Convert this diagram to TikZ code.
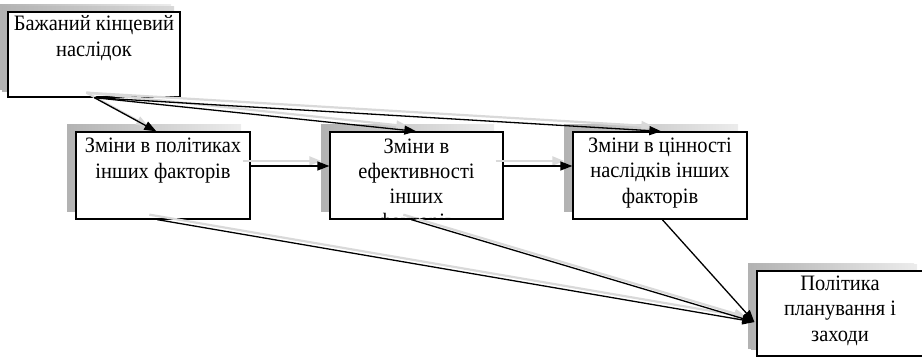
\documentclass[tikz,border=0pt]{standalone}
\usepackage{fontspec}
\setmainfont[FakeStretch=0.93]{Liberation Serif}
\usetikzlibrary{arrows.meta,shadows,calc}
\begin{document}
\begin{tikzpicture}[x=1pt,y=-1pt,
  box/.style={draw=black,line width=1.3pt,fill=white,inner sep=0pt,
    drop shadow={shadow xshift=-9pt,shadow yshift=7pt,left color=gray!60,right color=gray!15,opacity=1}},
  txt/.style={anchor=base,inner sep=0pt,align=center,font=\fontsize{22}{26}\selectfont},
  arr/.style={draw=black,line width=1.3pt,-{Triangle[length=12pt,width=9pt]}},
  ash/.style={draw=gray!30,line width=2.2pt,-{Triangle[length=12pt,width=9pt]},
    transform canvas={xshift=-8pt,yshift=5pt}}]
\useasboundingbox (0,0) rectangle (922,358);
% boxes
\node[box,minimum width=172pt,minimum height=85pt,
  drop shadow={shadow xshift=-6pt,shadow yshift=5pt,left color=gray!60,right color=gray!30,opacity=1}] (b1) at (94,54.5) {};
\node[box,minimum width=174pt,minimum height=87pt] (b2) at (163,175.5) {};
\node[box,minimum width=173pt,minimum height=87pt] (b3) at (416.5,175.5) {};
\node[box,minimum width=174pt,minimum height=87pt] (b4) at (660,175.5) {};
\node[box,minimum width=166pt,minimum height=85pt,
  drop shadow={shadow xshift=-6pt,shadow yshift=6pt,left color=gray!60,right color=gray!15,opacity=1}] (b5) at (840,313.5) {};
% connection points
\coordinate (s1) at ([xshift=87pt]b1.south west);
\coordinate (t2) at ([xshift=81pt]b2.north west);
\coordinate (t3) at ([xshift=87pt]b3.north west);
\coordinate (t4) at ([xshift=89pt]b4.north west);
\coordinate (u2) at ([xshift=82pt]b2.south west);
\coordinate (u3) at ([xshift=82pt]b3.south west);
\coordinate (u4) at ([xshift=90pt]b4.south west);
\coordinate (tip) at ([xshift=-2pt,yshift=-8.5pt]b5.west);
% arrow shadows
\draw[ash] (s1) -- (t2);
\draw[ash] (s1) -- (t3);
\draw[ash] (s1) -- (t4);
\draw[ash] ([yshift=9.5pt]b2.east) -- ([yshift=9.5pt]b3.west);
\draw[ash] ([yshift=9.5pt]b3.east) -- ([yshift=9.5pt]b4.west);
\draw[ash] (u2) -- (tip);
\draw[ash] (u3) -- (tip);
% arrows
\draw[arr] (s1) -- (t2);
\draw[arr] (s1) -- (t3);
\draw[arr] (s1) -- (t4);
\draw[arr] ([yshift=9.5pt]b2.east) -- ([yshift=9.5pt]b3.west);
\draw[arr] ([yshift=9.5pt]b3.east) -- ([yshift=9.5pt]b4.west);
\draw[arr] (u2) -- (tip);
\draw[arr] (u3) -- (tip);
\draw[arr] (u4) -- (tip);
% texts (anchor = baseline of last line)
\node[txt] (x1) at ([yshift=-45pt]b1.north) {Бажаний кінцевий\\наслідок};
\node[txt] (x2) at ([yshift=-47pt]b2.north) {Зміни в політиках\\інших факторів};
\begin{scope}
\clip ([xshift=1pt,yshift=1pt]b3.south west) rectangle ([xshift=-1pt]b3.north east);
\node[txt,font=\fontsize{22}{25}\selectfont] (x3) at ([yshift=-97pt]b3.north) {Зміни в\\ефективності\\інших\\факторів};
\end{scope}
\node[txt,font=\fontsize{22}{25.5}\selectfont] (x4) at ([yshift=-72pt]b4.north) {Зміни в цінності\\наслідків інших\\факторів};
\node[txt,font=\fontsize{22}{25.5}\selectfont] (x5) at ([yshift=-71pt]b5.north) {Політика\\планування і\\заходи};
\end{tikzpicture}
\end{document}
